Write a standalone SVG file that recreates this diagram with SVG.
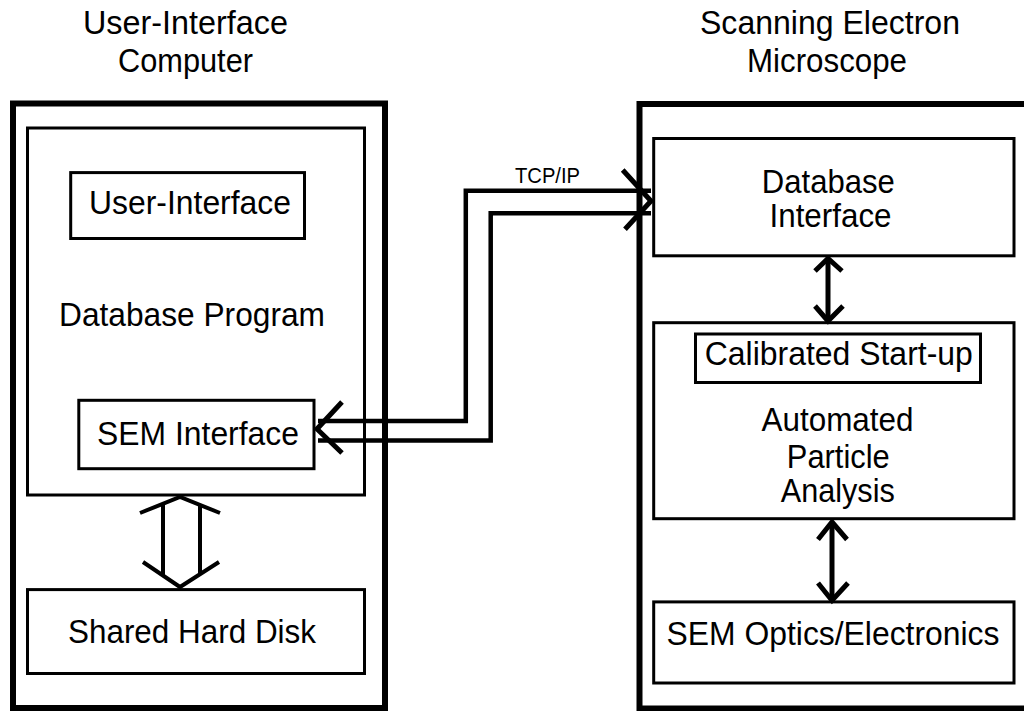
<svg xmlns="http://www.w3.org/2000/svg" width="1024" height="711" viewBox="0 0 1024 711">
<style>
  .outer { fill: none; stroke: #000; stroke-width: 6; }
  .box { fill: none; stroke: #000; stroke-width: 3; }
  .lbl { font-family: "Liberation Sans", Arial, sans-serif; font-size: 33px; fill: #000; text-anchor: middle; }
  .small { font-family: "Liberation Sans", Arial, sans-serif; font-size: 22px; fill: #000; text-anchor: middle; }
  .wire { fill: none; stroke: #000; stroke-width: 4.5; stroke-linejoin: miter; }
  .head { fill: none; stroke: #000; stroke-width: 5; stroke-linejoin: miter; stroke-linecap: butt; }
  .shaft { fill: none; stroke: #000; stroke-width: 4; }
</style>
<rect width="1024" height="711" fill="#fff"/>

<g id="title-left">
  <text class="lbl" x="185.5" y="34" textLength="205" lengthAdjust="spacingAndGlyphs">User-Interface</text>
  <text class="lbl" x="185.5" y="72" textLength="135" lengthAdjust="spacingAndGlyphs">Computer</text>
</g>
<g id="title-right">
  <text class="lbl" x="830" y="34" textLength="260" lengthAdjust="spacingAndGlyphs">Scanning Electron</text>
  <text class="lbl" x="827" y="72" textLength="160" lengthAdjust="spacingAndGlyphs">Microscope</text>
</g>

<g id="ui-computer">
  <rect class="outer" x="13" y="103.5" width="372" height="604.5"/>
</g>
<g id="database-program">
  <rect class="box" x="27.5" y="128" width="337" height="367"/>
  <text class="lbl" x="192" y="326.4" textLength="266" lengthAdjust="spacingAndGlyphs">Database Program</text>
</g>
<g id="user-interface">
  <rect class="box" x="70.7" y="172.6" width="233.8" height="65.9"/>
  <text class="lbl" x="190" y="213.6" textLength="202" lengthAdjust="spacingAndGlyphs">User-Interface</text>
</g>
<g id="sem-interface">
  <rect class="box" x="78.8" y="400.3" width="235.2" height="68.4"/>
  <text class="lbl" x="198" y="445.2" textLength="202" lengthAdjust="spacingAndGlyphs">SEM Interface</text>
</g>
<g id="shared-hard-disk">
  <rect class="box" x="27.5" y="589.6" width="337" height="83.9"/>
  <text class="lbl" x="192" y="643.3" textLength="248" lengthAdjust="spacingAndGlyphs">Shared Hard Disk</text>
</g>

<g id="sem">
  <rect class="outer" x="639.5" y="104" width="400" height="604.5"/>
</g>
<g id="database-interface">
  <rect class="box" x="653.7" y="138.5" width="360.3" height="117.3"/>
  <text class="lbl" x="828.3" y="193.2" textLength="133" lengthAdjust="spacingAndGlyphs">Database</text>
  <text class="lbl" x="830.5" y="227.4" textLength="122" lengthAdjust="spacingAndGlyphs">Interface</text>
</g>
<g id="automated-particle-analysis">
  <rect class="box" x="653.7" y="322.7" width="360.3" height="196"/>
  <text class="lbl" x="837.5" y="431.4" textLength="152" lengthAdjust="spacingAndGlyphs">Automated</text>
  <text class="lbl" x="838.3" y="467.8" textLength="103" lengthAdjust="spacingAndGlyphs">Particle</text>
  <text class="lbl" x="837.8" y="502" textLength="114" lengthAdjust="spacingAndGlyphs">Analysis</text>
</g>
<g id="calibrated-start-up">
  <rect class="box" x="695.5" y="334" width="285" height="48.5"/>
  <text class="lbl" x="838.8" y="365.2" textLength="268" lengthAdjust="spacingAndGlyphs">Calibrated Start-up</text>
</g>
<g id="sem-optics-electronics">
  <rect class="box" x="653.7" y="601.9" width="360.3" height="81.1"/>
  <text class="lbl" x="833" y="644.5" textLength="333" lengthAdjust="spacingAndGlyphs">SEM Optics/Electronics</text>
</g>

<g id="connectors">
  <path class="wire" d="M318 421 H465.8 V190.8 H651"/>
  <path class="wire" d="M318 440.5 H490.7 V213.3 H651"/>
  <polyline class="head" points="342,402 317,429 342,453"/>
  <polyline class="head" points="622.7,170 651,201 625,229.3"/>
  <text class="small" x="547.5" y="183" textLength="65" lengthAdjust="spacingAndGlyphs">TCP/IP</text>
  <polyline class="shaft" points="140,513 180,497 220,513"/>
  <line class="shaft" x1="163" y1="504" x2="163" y2="576"/>
  <line class="shaft" x1="200" y1="505" x2="200" y2="574"/>
  <polyline class="shaft" points="143,562 180,587 219,562"/>
  <line class="head" x1="828" y1="259" x2="828" y2="321"/>
  <polyline class="head" points="815,271 828,258.5 842,271"/>
  <polyline class="head" points="815,306 828,321 843,306"/>
  <line class="head" x1="832" y1="522" x2="832" y2="600"/>
  <polyline class="head" points="818,539.5 832,522 847,539.5"/>
  <polyline class="head" points="818,583 832,600.5 848,583"/>
</g>
</svg>
